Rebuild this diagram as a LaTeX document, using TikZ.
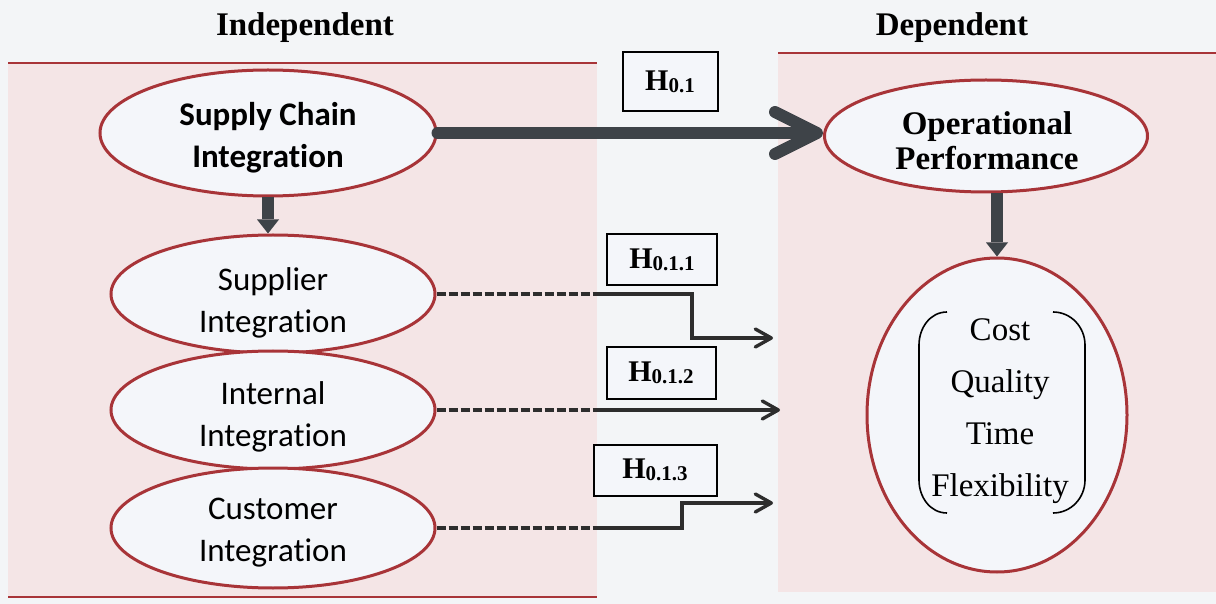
\documentclass[tikz,border=0pt]{standalone}
\usepackage{fontspec}
\setmainfont{Liberation Serif}
\newfontfamily\calibri[Ligatures=NoCommon]{Carlito}
\usetikzlibrary{shapes.geometric,arrows.meta}

\definecolor{bgcol}{RGB}{243,245,247}
\definecolor{pinkcol}{RGB}{244,229,230}
\definecolor{ellfill}{RGB}{244,246,250}
\definecolor{redcol}{RGB}{168,52,56}
\definecolor{arrowcol}{RGB}{62,67,72}
\definecolor{linkcol}{RGB}{45,45,45}

\newcommand{\hyp}[1]{\fontsize{15}{15}\selectfont\bfseries H\raisebox{-0.8pt}{\fontsize{10.5}{10.5}\selectfont #1}}

\begin{document}
\begin{tikzpicture}[x=0.5pt,y=-0.5pt,
  oval/.style={ellipse, draw=redcol, line width=1.5pt, fill=ellfill, inner sep=0pt},
  txt/.style={align=center, inner sep=0pt},
  sansreg/.style={txt, font=\calibri\fontsize{16.5}{21}\selectfont},
  sansbold/.style={txt, font=\calibri\bfseries\fontsize{16.5}{21}\selectfont},
  header/.style={font=\bfseries\fontsize{16.5}{20}\selectfont},
  hbox/.style={draw=black, line width=1pt, fill=ellfill, inner sep=0pt, minimum height=25.5pt},
  panelline/.style={draw=redcol, line width=1pt},
  bigarrow/.style={draw=arrowcol, line width=6pt, line cap=round,
    -{Straight Barb[length=21pt,width=21pt,line cap=round,line join=round]}},
  downarrow/.style={draw=arrowcol, line width=6pt, -{Triangle[length=7pt,width=11pt,line width=0pt 0 0]}},
  link/.style={draw=linkcol, line width=1.7pt, line join=miter},
  dashlink/.style={link, dash pattern=on 4.5pt off 1.5pt},
  linkarrow/.style={link, -{Straight Barb[length=8pt,width=9pt,line cap=round,line join=round]}}
]
\useasboundingbox (0,0) rectangle (1216,604);

% background and the two panels
\fill[bgcol] (0,0) rectangle (1216,604);
\fill[pinkcol] (8,63) rectangle (597,597);
\fill[pinkcol] (778,53) rectangle (1216,592);
\draw[panelline] (8,63) -- (597,63);
\draw[panelline] (8,597) -- (597,597);
\draw[panelline] (778,53) -- (1216,53);

% headers
\node[header] (indep) at (305,28) {Independent};
\node[header] (dep) at (952,28) {Dependent};

% independent variables
\node[oval, minimum width=168pt, minimum height=63pt] (sci) at (268,133) {};
\node[sansbold] (scit) at (268,138) {Supply Chain\\Integration};
\node[oval, minimum width=162pt, minimum height=59pt] (sup) at (273,294) {};
\node[sansreg] (supt) at (273,303) {Supplier\\Integration};
\node[oval, minimum width=162pt, minimum height=59pt] (int) at (273,410) {};
\node[sansreg] (intt) at (273,417) {Internal\\Integration};
\node[oval, minimum width=162pt, minimum height=60pt] (cus) at (273,528) {};
\node[sansreg] (cust) at (273,533) {Customer\\Integration};

% dependent variable and its dimensions
\node[oval, minimum width=161.5pt, minimum height=56pt] (op) at (986,136) {};
\node[txt, font=\bfseries\fontsize{16.5}{17.5}\selectfont] (opt) at (987,141) {Operational\\Performance};
\node[oval, minimum width=130pt, minimum height=157pt] (perf) at (997,415) {};
\node[txt, font=\fontsize{16.5}{26}\selectfont] (dims) at (1000,411) {Cost\\Quality\\Time\\Flexibility};
\draw[line width=0.8pt] (947,312) to[out=180,in=90] (919,345) -- (919,480) to[out=-90,in=180] (947,513);
\draw[line width=0.8pt] (1053,312) to[out=0,in=90] (1085,345) -- (1085,480) to[out=-90,in=0] (1053,513);

% hypothesis labels
\node[hbox, minimum width=47.5pt, minimum height=29.5pt] (h0) at (670,82) {\hyp{0.1}};
\node[hbox, minimum width=55pt] (h1) at (662,260) {\hyp{0.1.1}};
\node[hbox, minimum width=54.5pt] (h2) at (661,373) {\hyp{0.1.2}};
\node[hbox, minimum width=61.5pt] (h3) at (655,470) {\hyp{0.1.3}};

% main relation and the two structural arrows
\draw[bigarrow] (sci.east) -- (sci.east -| op.west);
\draw[downarrow] (sci.south) -- (sci.south |- sup.north);
\draw[downarrow] (op.south -| perf.north) -- (perf.north);

% sub-hypothesis links
\coordinate (s1) at (598,294);
\coordinate (s2) at (692,294);
\coordinate (s3) at (692,338);
\coordinate (s4) at (773,338);
\draw[dashlink] (sup.east) -- (s1);
\draw[linkarrow] (s1) -- (s2) -- (s3) -- (s4);

\coordinate (i1) at (598,410);
\coordinate (i2) at (780,410);
\draw[dashlink] (int.east) -- (i1);
\draw[linkarrow] (i1) -- (i2);

\coordinate (c1) at (598,528);
\coordinate (c2) at (682,528);
\coordinate (c3) at (682,503);
\coordinate (c4) at (773,503);
\draw[dashlink] (cus.east) -- (c1);
\draw[linkarrow] (c1) -- (c2) -- (c3) -- (c4);
\end{tikzpicture}
\end{document}
